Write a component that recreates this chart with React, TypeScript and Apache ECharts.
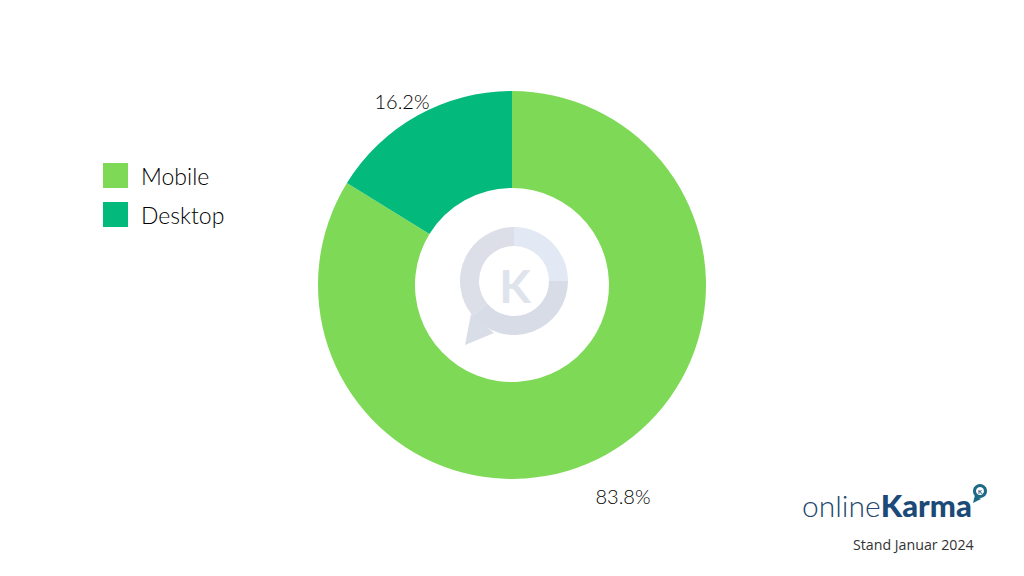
import React, { useEffect, useRef } from "react";
import * as echarts from "echarts";

const categories = ["Mobile", "Desktop"];
const shareValues = [83.8, 16.2];
const sliceColors = ["#7ed957", "#03b97c"];
const labelOffsets: [number, number][] = [
  [623, 496],
  [402, 101],
];
const fontFamily = "Lato, 'Open Sans', sans-serif";
const deg = Math.PI / 180;

export default function App() {
  const ref = useRef<HTMLDivElement>(null);
  useEffect(() => {
    const chart = echarts.init(ref.current!, null, { renderer: "svg" });
    chart.setOption({
      animation: false,
      backgroundColor: "#ffffff",
      color: sliceColors,
      legend: {
        orient: "vertical",
        left: 98,
        top: 158,
        itemWidth: 25,
        itemHeight: 25,
        itemGap: 14,
        icon: "rect",
        selectedMode: false,
        data: categories,
        textStyle: { fontFamily, fontSize: 23, fontWeight: 300, color: "#000000", padding: [0, 0, 3, 8] },
      },
      series: [
        {
          type: "pie",
          center: [512, 285],
          radius: [97, 194],
          startAngle: 90,
          clockwise: true,
          silent: true,
          z: 2,
          itemStyle: { borderWidth: 0 },
          label: {
            show: true,
            position: "outside",
            formatter: (p: any) => `${p.value.toFixed(1)}%`,
            fontFamily,
            fontSize: 20,
            fontWeight: 300,
            color: "#000000",
          },
          labelLine: { show: false },
          labelLayout: (p: any) => ({
            x: labelOffsets[p.dataIndex][0],
            y: labelOffsets[p.dataIndex][1],
            align: "center",
            verticalAlign: "middle",
          }),
          data: categories.map((name, i) => ({ name, value: shareValues[i] })),
        },
      ],
      graphic: [
        // centre watermark
        { type: "polygon", z: 5, shape: { points: [[471, 314], [465, 345], [494, 333]] }, style: { fill: "#d8dde7" } },
        {
          type: "sector", z: 6,
          shape: { cx: 514, cy: 281, r0: 35, r: 54, startAngle: -90 * deg, endAngle: 0, clockwise: true },
          style: { fill: "#e3e9f4" },
        },
        {
          type: "sector", z: 6,
          shape: { cx: 514, cy: 281, r0: 35, r: 54, startAngle: 0, endAngle: 140 * deg, clockwise: true },
          style: { fill: "#d7dce6" },
        },
        {
          type: "sector", z: 6,
          shape: { cx: 514, cy: 281, r0: 35, r: 54, startAngle: 140 * deg, endAngle: 270 * deg, clockwise: true },
          style: { fill: "#dcdfe8" },
        },
        {
          type: "text", z: 7, x: 515, y: 285,
          style: { text: "K", fontFamily, fontWeight: "bold", fontSize: 46, fill: "#dfe3ec", align: "center", verticalAlign: "middle" },
        },
        // brand logo
        {
          type: "text", z: 7, x: 802, y: 505,
          style: {
            text: "{a|online}{b|Karma}",
            align: "left",
            verticalAlign: "middle",
            rich: {
              a: { fontFamily, fontWeight: 300, fontSize: 30, fill: "#24486b", color: "#24486b" },
              b: { fontFamily, fontWeight: 900, fontSize: 31, fill: "#1c4a78", color: "#1c4a78" },
            },
          },
        },
        { type: "polygon", z: 7, shape: { points: [[975, 495], [973, 503], [981, 499]] }, style: { fill: "#1c6a85" } },
        { type: "circle", z: 8, shape: { cx: 980, cy: 491, r: 5.5 }, style: { fill: "#ffffff", stroke: "#1c6a85", lineWidth: 3 } },
        {
          type: "text", z: 9, x: 980, y: 491,
          style: { text: "K", fontFamily, fontWeight: "bold", fontSize: 6, fill: "#1c4a78", align: "center", verticalAlign: "middle" },
        },
        {
          type: "text", z: 7, x: 853, y: 544,
          style: { text: "Stand Januar 2024", fontFamily: "'Open Sans', sans-serif", fontSize: 14.2, fill: "#333333", align: "left", verticalAlign: "middle" },
        },
      ],
    });
    return () => chart.dispose();
  }, []);
  return <div ref={ref} style={{ position: "fixed", left: 0, top: 0, width: 1024, height: 576 }} />;
}
